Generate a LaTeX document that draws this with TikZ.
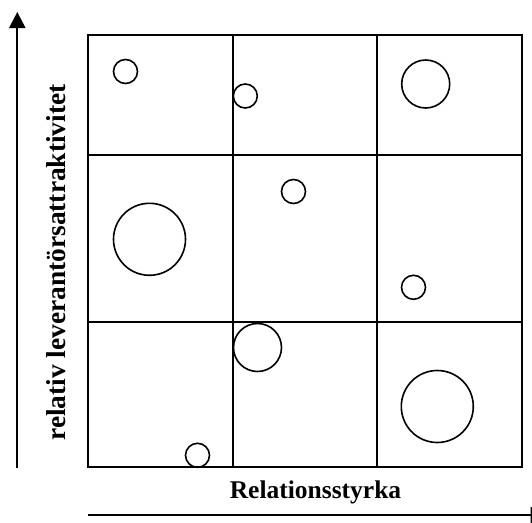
\documentclass[tikz,border=0pt]{standalone}
\usepackage{fontspec}
\setmainfont{Liberation Serif}
\usetikzlibrary{arrows.meta}
\begin{document}
\begin{tikzpicture}[x=1pt,y=-1pt,
  gridline/.style={line width=1.8pt},
  bubble/.style={circle,draw,line width=1.6pt,inner sep=0pt},
  small/.style={bubble,minimum size=24pt},
  medium/.style={bubble,minimum size=48pt},
  large/.style={bubble,minimum size=72pt},
  axis/.style={line width=2.2pt,-{Triangle[length=16pt,width=16pt]}},
  axislabel/.style={inner sep=0pt,anchor=base}]
\useasboundingbox (0,0) rectangle (532,522);
% 3x3 portfolio grid
\draw[gridline] (88,35) rectangle (522,467);
\draw[gridline] (233,35) -- (233,467);
\draw[gridline] (377,35) -- (377,467);
\draw[gridline] (88,155) -- (522,155);
\draw[gridline] (88,322) -- (522,322);
% supplier bubbles
\node[small]  (b1) at (125.5,71.5) {};
\node[small]  (b2) at (245.3,96) {};
\node[medium] (b3) at (425.7,84) {};
\node[large]  (b4) at (149.5,239.3) {};
\node[small]  (b5) at (293.5,191.5) {};
\node[small]  (b6) at (413.5,287.3) {};
\node[medium] (b7) at (257.5,347.5) {};
\node[large]  (b8) at (437.3,406.5) {};
\node[small]  (b9) at (197.5,455.3) {};
% axes
\coordinate (yfrom) at (17.3,468);
\coordinate (yto) at (17.3,12);
\coordinate (xfrom) at (88,515);
\coordinate (xto) at (546.5,515);
\draw[axis] (yfrom) -- (yto);
\draw[axis] (xfrom) -- (xto);
% axis labels
\node[axislabel,rotate=90,font=\bfseries\fontsize{27.4}{27.4}\selectfont] (ylab) at (65,262.5) {relativ leverantörsattraktivitet};
\node[axislabel,font=\bfseries\fontsize{25.5}{25.5}\selectfont] (xlab) at (315.5,498) {Relationsstyrka};
\end{tikzpicture}
\end{document}
